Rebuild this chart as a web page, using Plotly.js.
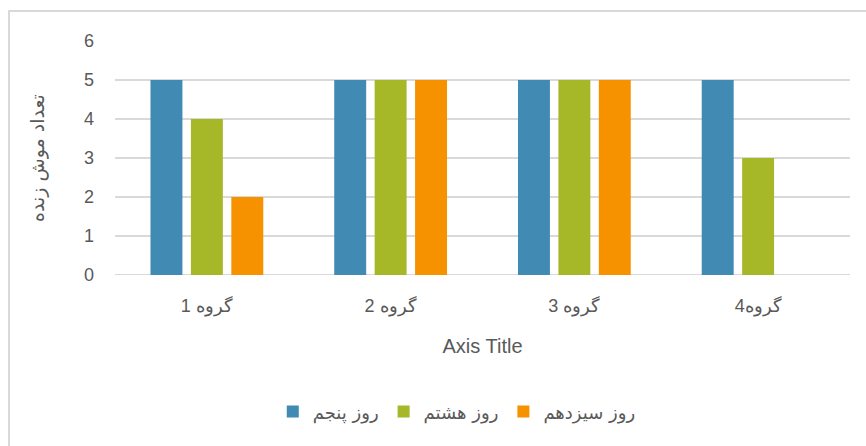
<!DOCTYPE html>
<html><head><meta charset="utf-8">
<script src="https://cdn.plot.ly/plotly-3.0.1.min.js"></script>
<style>html,body{margin:0;padding:0;background:#fff;}#wrap{position:relative;width:866px;height:446px;}
#frame{position:absolute;left:8px;top:10px;width:880px;height:460px;border:2px solid #d9d9d9;box-sizing:border-box;pointer-events:none;}
#chart{position:absolute;left:0;top:0;width:866px;height:446px;}</style>
</head><body><div id="wrap"><div id="chart"></div><div id="frame"></div></div>
<script>
const categories = ["گروه 1", "گروه 2", "گروه 3", "گروه4"];
const seriesNames = ["روز پنجم", "روز هشتم", "روز سیزدهم"];
const day5 = [5, 5, 5, 5];
const day8 = [4, 5, 5, 3];
const day13 = [2, 5, 5, null];
const colors = ["#418AB3", "#A6B727", "#F69200"];
const yTicks = [0, 1, 2, 3, 4, 5, 6];
const values = [day5, day8, day13];
const font = "Open Sans, Liberation Sans, sans-serif";
const traces = values.map((v, i) => ({
  type: "bar", x: categories, y: v, name: seriesNames[i],
  marker: {color: colors[i]}, hoverinfo: "x+y+name"
}));
const layout = {
  width: 866, height: 446,
  margin: {l: 115, r: 16, t: 41, b: 171},
  paper_bgcolor: "rgba(0,0,0,0)", plot_bgcolor: "#fff",
  barmode: "group", bargap: 0.34, bargroupgap: 0.21,
  font: {family: font, color: "#595959", size: 15},
  xaxis: {type: "category", showgrid: false, zeroline: false, showline: false,
    ticks: "", ticklabelstandoff: 18, tickfont: {size: 18, family: "Liberation Sans, sans-serif", color: "#595959"},
    title: {text: "Axis Title", font: {size: 20, color: "#595959", family: "Liberation Sans, sans-serif"}, standoff: 22}},
  yaxis: {range: [0, 6], tickvals: yTicks, ticktext: yTicks.map(String),
    showgrid: true, gridcolor: "#d9d9d9", gridwidth: 2, zeroline: false, showline: false,
    ticks: "", ticklen: 0, ticklabelstandoff: 20, tickfont: {size: 18, color: "#595959", family: "Liberation Sans, sans-serif"},
    title: {text: "تعداد موش زنده", font: {size: 19, color: "#595959", family: "DejaVu Sans, sans-serif"}, standoff: 34}},
  shapes: [{type: "line", xref: "paper", yref: "y", x0: 0, x1: 1, y0: 0, y1: 0, line: {color: "#d9d9d9", width: 2}, layer: "below"}],
  legend: {orientation: "h", x: 0.465, xanchor: "center", y: -0.585, yanchor: "middle",
    font: {size: 18, color: "#595959", family: "DejaVu Sans, sans-serif"}, traceorder: "normal", itemwidth: 30},
  showlegend: true
};
Plotly.newPlot("chart", traces, layout, {displayModeBar: false, staticPlot: true});
</script></body></html>
